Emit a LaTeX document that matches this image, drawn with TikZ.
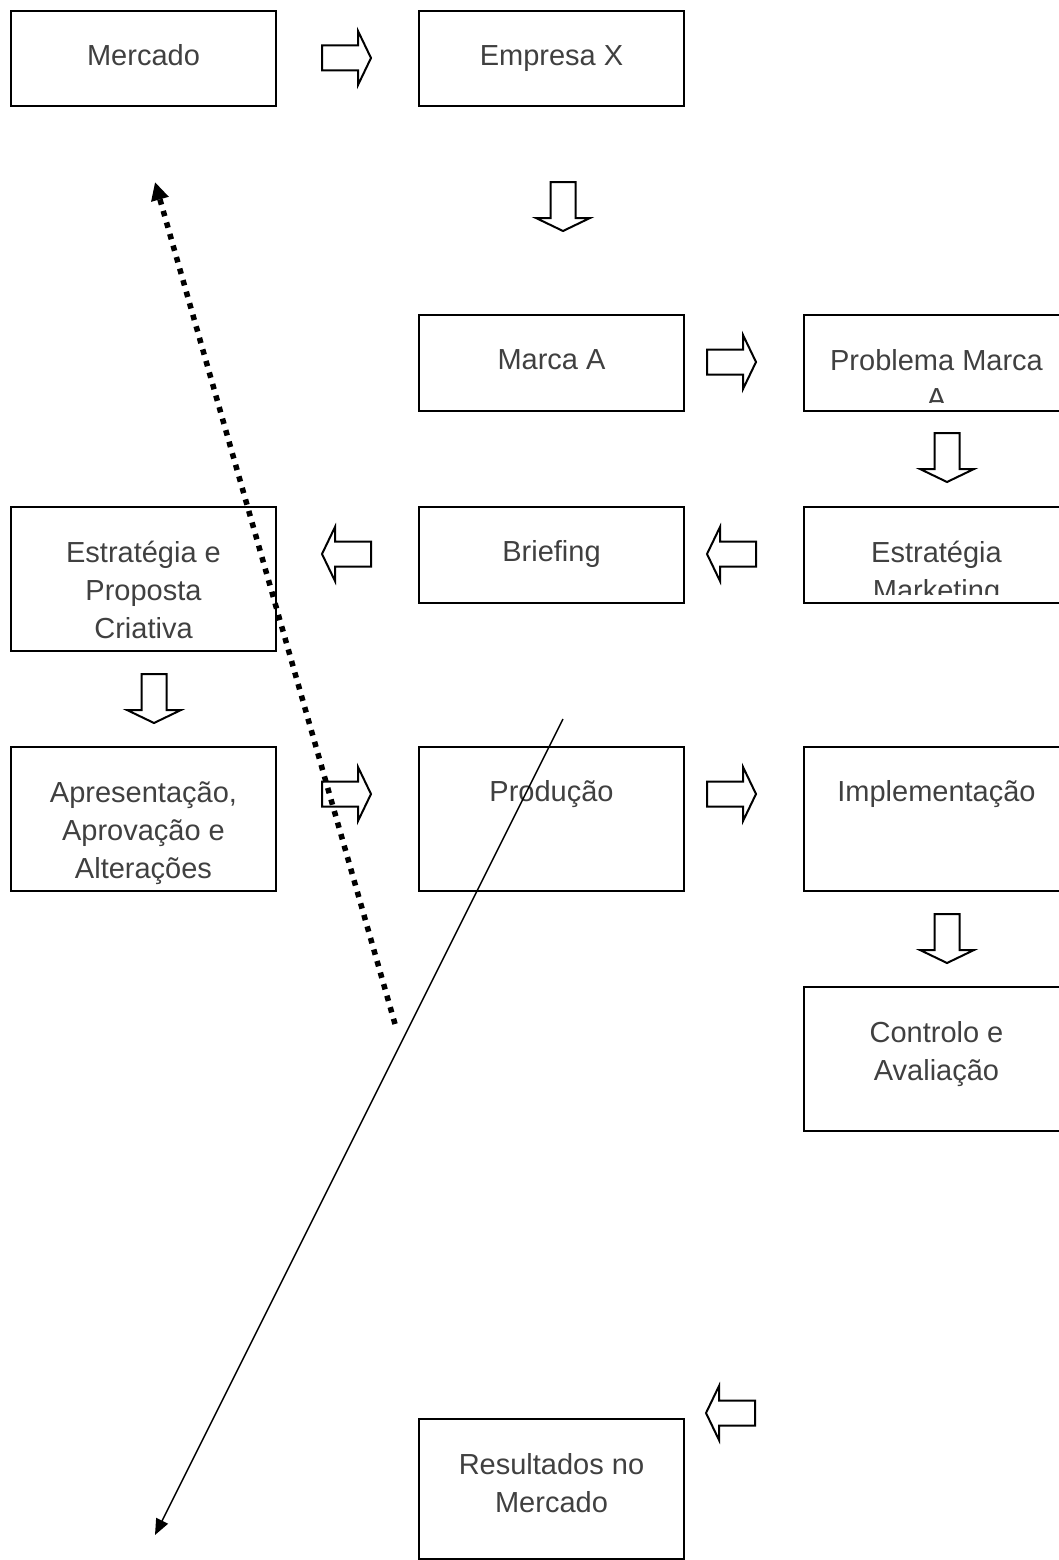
\documentclass[tikz,border=0pt]{standalone}
\usepackage{fontspec}
\setmainfont{Liberation Sans}
\usetikzlibrary{arrows.meta}
\definecolor{txtgray}{RGB}{64,64,64}
\tikzset{
  box/.style={draw=black, line width=2pt, anchor=north west, inner sep=0pt,
              minimum width=265pt},
  shortbox/.style={box, minimum height=96pt},
  tallbox/.style={box, minimum height=144pt},
  lbl/.style={anchor=north, inner sep=0pt, align=center, text=txtgray,
              font=\fontsize{29}{38}\selectfont, execute at begin node=\strut},
  lblmulti/.style={lbl, yshift=-7pt},
  arrowline/.style={draw=black, line width=2pt, line join=miter},
  barrow/.pic={\path[arrowline] (-24.5,-12.5) -- (11.5,-12.5) -- (11.5,-27)
      -- (24.5,0) -- (11.5,27) -- (11.5,12.5) -- (-24.5,12.5) -- cycle;},
  dotted link/.style={line width=5.5pt, dash pattern=on 5.5pt off 6.5pt,
              -{Triangle[length=18pt,width=17pt]}},
  thin link/.style={line width=1.5pt, -{Triangle[length=16pt,width=13pt]}}
}
\begin{document}
\begin{tikzpicture}[x=1pt, y=-1pt]
\useasboundingbox (0,0) rectangle (1059,1560);

% boxes
\node[box, minimum height=95pt] (mercado) at (10,10) {};
\node[box, minimum height=95pt] (empresa) at (418,10) {};
\node[shortbox] (marca) at (418,314) {};
\node[shortbox] (problema) at (803,314) {};
\node[tallbox] (proposta) at (10,506) {};
\node[shortbox] (briefing) at (418,506) {};
\node[shortbox] (estmkt) at (803,506) {};
\node[tallbox] (apres) at (10,746) {};
\node[tallbox] (producao) at (418,746) {};
\node[tallbox] (impl) at (803,746) {};
\node[tallbox] (controlo) at (803,986) {};
\node[box, minimum height=140pt] (resultados) at (418,1418) {};

% labels, set from the top of each box
\node[lbl] (mercado-t) at ([yshift=-28.4pt]mercado.north) {Mercado};
\node[lbl] (empresa-t) at ([yshift=-28.4pt]empresa.north) {Empresa X};
\node[lbl] (marca-t) at ([yshift=-28.4pt]marca.north) {Marca A};
\begin{scope}
  \clip (problema.north west) rectangle ([yshift=10pt]problema.south east);
  \node[lblmulti] (problema-t) at ([yshift=-28.4pt]problema.north) {Problema Marca\\A};
\end{scope}
\node[lblmulti] (proposta-t) at ([yshift=-28.4pt]proposta.north) {Estratégia e\\Proposta\\Criativa};
\node[lbl] (briefing-t) at ([yshift=-28.4pt]briefing.north) {Briefing};
\begin{scope}
  \clip (estmkt.north west) rectangle ([yshift=10pt]estmkt.south east);
  \node[lblmulti] (estmkt-t) at ([yshift=-28.4pt]estmkt.north) {Estratégia\\Marketing};
\end{scope}
\node[lblmulti] (apres-t) at ([yshift=-28.4pt]apres.north) {Apresentação,\\Aprovação e\\Alterações};
\node[lbl] (producao-t) at ([yshift=-28.4pt]producao.north) {Produção};
\node[lbl] (impl-t) at ([yshift=-28.4pt]impl.north) {Implementação};
\node[lblmulti] (controlo-t) at ([yshift=-28.4pt]controlo.north) {Controlo e\\Avaliação};
\node[lblmulti] (resultados-t) at ([yshift=-28.4pt]resultados.north) {Resultados no\\Mercado};

% block arrows
\pic at (346.5,58) {barrow};
\pic[rotate=-90] at (563,206.5) {barrow};
\pic at (731.5,362) {barrow};
\pic[rotate=-90] at (947,457.5) {barrow};
\pic[rotate=180] at (731.5,554) {barrow};
\pic[rotate=180] at (346.5,554) {barrow};
\pic[rotate=-90] at (154,698.5) {barrow};
\pic at (346.5,794) {barrow};
\pic at (731.5,794) {barrow};
\pic[rotate=-90] at (947,938.5) {barrow};
\pic[rotate=180] at (730.5,1413) {barrow};

% free-standing links
\coordinate (dotstart) at (395,1024);
\coordinate (dotend) at (155,182);
\coordinate (thinstart) at (563,719);
\coordinate (thinend) at (155,1535);
\draw[dotted link] (dotstart) -- (dotend);
\draw[thin link] (thinstart) -- (thinend);
\end{tikzpicture}
\end{document}
